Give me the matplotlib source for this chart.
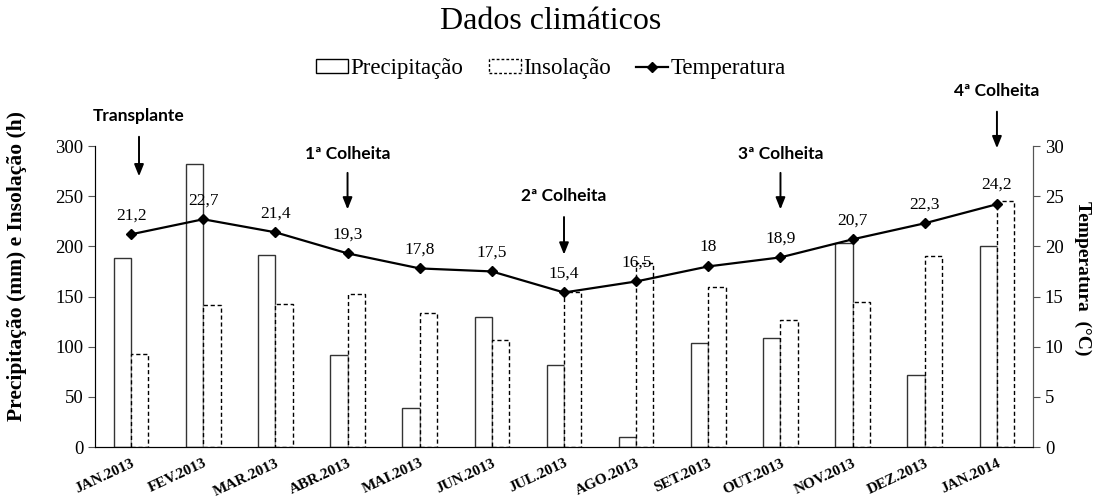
import numpy as np
import matplotlib.pyplot as plt
from matplotlib.patches import Patch
from matplotlib.lines import Line2D

plt.rcParams['font.family'] = ['Liberation Serif', 'DejaVu Serif']

meses = ['JAN.2013', 'FEV.2013', 'MAR.2013', 'ABR.2013', 'MAI.2013', 'JUN.2013',
         'JUL.2013', 'AGO.2013', 'SET.2013', 'OUT.2013', 'NOV.2013', 'DEZ.2013',
         'JAN.2014']
precipitacao = [188, 282, 191, 92, 39, 130, 82, 10, 104, 109, 203, 72, 200]
insolacao = [93, 142, 143, 153, 134, 107, 154, 183, 159, 127, 145, 190, 245]
temperatura = [21.2, 22.7, 21.4, 19.3, 17.8, 17.5, 15.4, 16.5, 18, 18.9, 20.7, 22.3, 24.2]

# eventos do ciclo: (texto, posição x, y do texto, início e fim da seta)
eventos = [
    ('Transplante', 0.11, 330, 312, 267),
    ('1ª Colheita', 3.0, 292, 276, 234),
    ('2ª Colheita', 6.0, 250, 232, 189),
    ('3ª Colheita', 9.0, 292, 276, 234),
    ('4ª Colheita', 12.0, 355, 337, 295),
]

x = np.arange(len(meses))
w = 0.24

fig = plt.figure(figsize=(11.02, 4.97), dpi=100)
ax = fig.add_axes([0.0862, 0.1006, 0.8512, 0.6056])

ax.bar(x - w / 2, precipitacao, w, facecolor='white', edgecolor='#333333', linewidth=1.0)
ax.bar(x + w / 2, insolacao, w, facecolor='white', edgecolor='black', linewidth=1.0,
       linestyle=(0, (3, 2)))

ax.set_xlim(-0.5, len(meses) - 0.5)
ax.set_ylim(0, 300)
ax.set_yticks(range(0, 301, 50))
ax.tick_params(axis='y', direction='out', length=5, labelsize=13.5, color='#555555')
ax.tick_params(axis='x', length=0, pad=7)
ax.set_xticks(x)
ax.set_xticklabels(meses, rotation=25, ha='right', rotation_mode='anchor',
                   fontweight='bold', fontsize=11)
ax.spines['top'].set_visible(False)
for s in ('left', 'right'):
    ax.spines[s].set_color('#555555')
ax.spines['bottom'].set_color('black')
ax.set_ylabel('Precipitação (mm) e Insolação (h)', fontweight='bold', fontsize=15.5)
ax.yaxis.set_label_coords(-0.072, 0.6)

for texto, xe, yt, y0, y1 in eventos:
    ax.annotate('', xy=(xe, y1), xytext=(xe, y0),
                arrowprops=dict(arrowstyle='-|>,head_width=0.28,head_length=0.7',
                                color='black', lw=1.4), annotation_clip=False)
    ax.text(xe, yt, texto, ha='center', va='center', fontsize=12.5, fontweight='bold',
            family=['Lato', 'DejaVu Sans'], clip_on=False)

ax2 = ax.twinx()
ax2.plot(x, temperatura, color='black', lw=1.6, marker='D', markersize=5.5)
ax2.set_ylim(0, 30)
ax2.set_yticks(range(0, 31, 5))
ax2.tick_params(axis='y', direction='out', length=5, labelsize=13.5, color='#555555')
ax2.spines['top'].set_visible(False)
ax2.spines['right'].set_color('#555555')
ax2.set_ylabel('Temperatura  (°C)', fontweight='bold', fontsize=14, rotation=270,
               va='center')
ax2.yaxis.set_label_coords(1.053, 0.56)

for xi, t in zip(x, temperatura):
    ax2.annotate(f'{t:g}'.replace('.', ','), (xi, t), xytext=(0, 8),
                 textcoords='offset points', ha='center', va='bottom', fontsize=12.5)

fig.suptitle('Dados climáticos', fontsize=23, y=0.985)

handles = [
    Patch(facecolor='white', edgecolor='black', linewidth=1.0),
    Patch(facecolor='white', edgecolor='black', linewidth=1.0, linestyle=(0, (2, 1.5))),
    Line2D([0], [0], color='black', lw=1.6, marker='D', markersize=5),
]
fig.legend(handles, ['Precipitação', 'Insolação', 'Temperatura'], loc='center',
           bbox_to_anchor=(0.5, 0.862), ncol=3, frameon=False, fontsize=16.5,
           handlelength=1.4, handleheight=0.55, handletextpad=0.1, columnspacing=1.1)

fig.savefig('out.png', dpi=100)
